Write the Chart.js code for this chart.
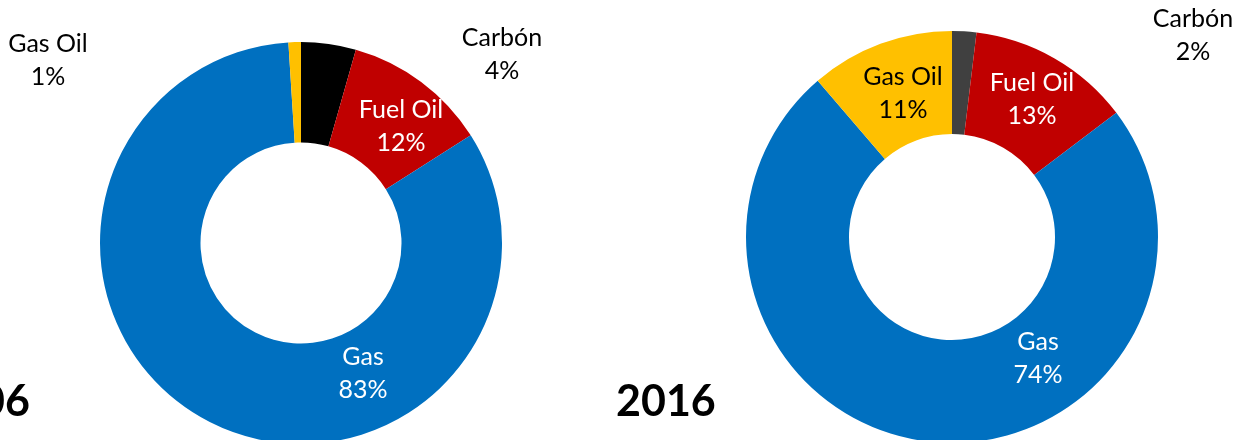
<!DOCTYPE html>
<html>
<head>
<meta charset="utf-8">
<script src="https://cdn.jsdelivr.net/npm/chart.js@4/dist/chart.umd.min.js"></script>
<style>
  html, body { margin: 0; padding: 0; background: #fff; overflow: hidden; }
  body { width: 1235px; height: 440px; position: relative; font-family: Lato, "Open Sans", sans-serif; }
  canvas { position: absolute; }
  #chart2006 { left: 0; top: 0; }
  #chart2016 { left: 620px; top: 0; }
  .year { position: absolute; font-weight: bold; font-size: 43px; color: #000; line-height: 1; }
  #year2006 { right: 1205px; top: 378px; }
  #year2016 { left: 616px; top: 378px; }
</style>
</head>
<body>
<canvas id="chart2006" width="620" height="444"></canvas>
<canvas id="chart2016" width="615" height="443"></canvas>
<div class="year" id="year2006">2006</div>
<div class="year" id="year2016">2016</div>
<script>
// fuel mix share (%), clockwise from 12 o'clock; labels show rounded values
let fuels = ['Carbón', 'Fuel Oil', 'Gas', 'Gas Oil'];
let share2006 = [4.4, 11.6, 83, 1];
let share2016 = [1.9, 12.8, 74, 11.3];

let colors2006 = ['#000000', '#C00000', '#0070C0', '#FFC000'];
let colors2016 = ['#404040', '#C00000', '#0070C0', '#FFC000'];

// where each label sits, offset from the hole centre (px), and its text colour
let spots2006 = [
  { dx: 201, dy: -189, color: '#000' },
  { dx: 100, dy: -117, color: '#fff' },
  { dx: 62, dy: 130, color: '#fff' },
  { dx: -253, dy: -183, color: '#000' }
];
let spots2016 = [
  { dx: 241, dy: -202, color: '#000' },
  { dx: 80, dy: -138, color: '#fff' },
  { dx: 86, dy: 121, color: '#fff' },
  { dx: -49, dy: -144, color: '#000' }
];

const sliceLabels = {
  id: 'sliceLabels',
  afterDraw(chart, args, opts) {
    let ctx = chart.ctx;
    let meta = chart.getDatasetMeta(0);
    let values = chart.data.datasets[0].data;
    ctx.save();
    ctx.font = '25px Lato';
    ctx.textAlign = 'center';
    ctx.textBaseline = 'middle';
    meta.data.forEach((arc, i) => {
      let s = opts.spots[i];
      let x = arc.x + s.dx;
      let y = arc.y + s.dy;
      ctx.fillStyle = s.color;
      ctx.fillText(chart.data.labels[i], x, y - 16.5);
      ctx.fillText(Math.round(values[i]) + '%', x, y + 16.5);
    });
    ctx.restore();
  }
};

function makeChart(id, values, colors, spots, padding) {
  let canvas = document.getElementById(id);
  return new Chart(canvas, {
    type: 'doughnut',
    data: {
      labels: fuels,
      datasets: [{
        data: values,
        backgroundColor: colors,
        borderWidth: 0
      }]
    },
    options: {
      responsive: false,
      animation: false,
      cutout: '50%',
      layout: { padding: padding },
      plugins: {
        legend: { display: false },
        tooltip: { enabled: false },
        sliceLabels: { spots: spots }
      }
    },
    plugins: [sliceLabels]
  });
}

makeChart('chart2006', share2006, colors2006, spots2006, { left: 100, right: 118, top: 42, bottom: 0 });
makeChart('chart2016', share2016, colors2016, spots2016, { left: 126, right: 77, top: 31, bottom: 0 });
</script>
</body>
</html>
